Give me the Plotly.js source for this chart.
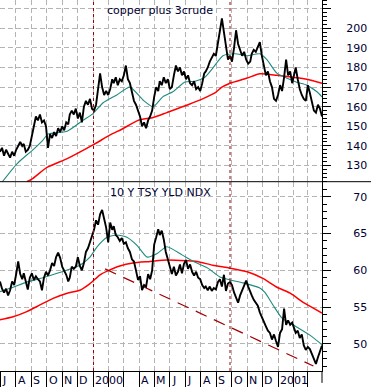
<!DOCTYPE html>
<html><head><meta charset="utf-8">
<script src="https://cdn.plot.ly/plotly-3.0.1.min.js"></script>
<style>html,body{margin:0;padding:0;background:#fff;}#chart{width:371px;height:387px;}</style>
</head><body><div id="chart"></div>
<script>
// shared dates for the daily/bar series (sampled)
const days = [
'1999-07-01','1999-07-05','1999-07-09','1999-07-13','1999-07-17','1999-07-21','1999-07-25','1999-07-29',
'1999-08-02','1999-08-06','1999-08-10','1999-08-14','1999-08-17','1999-08-21','1999-08-25','1999-08-29',
'1999-09-02','1999-09-06','1999-09-10','1999-09-14','1999-09-18','1999-09-22','1999-09-26','1999-09-30',
'1999-10-04','1999-10-08','1999-10-12','1999-10-16','1999-10-20','1999-10-24','1999-10-28',
'1999-11-01','1999-11-05','1999-11-09','1999-11-13','1999-11-16','1999-11-20','1999-11-24','1999-11-28',
'1999-12-02','1999-12-06','1999-12-10','1999-12-14','1999-12-18','1999-12-22','1999-12-26','1999-12-30',
'2000-01-03','2000-01-07','2000-01-11','2000-01-15','2000-01-19','2000-01-23','2000-01-27','2000-01-31',
'2000-02-04','2000-02-08','2000-02-11','2000-02-15','2000-02-19','2000-02-23','2000-02-27',
'2000-03-02','2000-03-06','2000-03-10','2000-03-14','2000-03-18','2000-03-22','2000-03-26','2000-03-30',
'2000-04-03','2000-04-07','2000-04-11','2000-04-15','2000-04-19','2000-04-23','2000-04-27',
'2000-05-01','2000-05-05','2000-05-09','2000-05-12','2000-05-16','2000-05-20','2000-05-24','2000-05-28',
'2000-06-01','2000-06-05','2000-06-09','2000-06-13','2000-06-17','2000-06-21','2000-06-25','2000-06-29',
'2000-07-03','2000-07-07','2000-07-11','2000-07-15','2000-07-19','2000-07-23','2000-07-27','2000-07-31',
'2000-08-04','2000-08-08','2000-08-11','2000-08-15','2000-08-19','2000-08-23','2000-08-27','2000-08-31',
'2000-09-04','2000-09-08','2000-09-12','2000-09-16','2000-09-20','2000-09-24','2000-09-28',
'2000-10-02','2000-10-06','2000-10-10','2000-10-14','2000-10-18','2000-10-22','2000-10-26','2000-10-30',
'2000-11-03','2000-11-07','2000-11-10','2000-11-14','2000-11-18','2000-11-22','2000-11-26','2000-11-30',
'2000-12-04','2000-12-08','2000-12-12','2000-12-16','2000-12-20','2000-12-24','2000-12-28',
'2001-01-01','2001-01-05','2001-01-09','2001-01-13','2001-01-17','2001-01-21','2001-01-25','2001-01-29',
'2001-02-02','2001-02-05','2001-02-09','2001-02-13','2001-02-17','2001-02-21','2001-02-25',
'2001-03-01','2001-03-05','2001-03-09','2001-03-13','2001-03-17','2001-03-21','2001-03-25','2001-03-29'
];

const copperCrude = [
137,139,135,138,136,134,137,135,
138,140,142,140,141,137,138,140,
146,150,155,153,156,152,153,150,
139,146,144,147,145,149,147,
150,148,152,151,156,158,156,159,
154,157,152,160,163,161,164,159,
158,161,170,177,170,166,168,166,
169,174,172,175,171,174,173,
176,181,174,172,168,163,161,158,
155,150,152,149,153,155,158,
165,170,168,173,171,175,172,174,
169,170,176,181,178,180,176,178,
174,176,172,171,173,169,170,168,
172,177,178,180,183,185,187,186,
192,197,205,198,190,184,186,
183,190,199,192,189,186,188,184,
182,183,187,189,188,191,193,186,
180,176,178,173,170,164,163,
166,171,168,175,184,176,178,172,
176,180,174,169,166,164,163,
171,167,162,158,157,161,159,155
];

const tsyYield = [
58.5,57.5,57.0,57.5,56.6,57.3,58.5,58.0,
59.5,61.2,59.5,58.8,59.6,58.5,57.4,59.0,
59.6,58.7,59.2,58.8,58.5,57.3,59.0,59.8,
59.3,60.0,61.0,60.6,61.8,62.4,61.7,
60.5,60.0,59.4,58.5,59.0,60.5,60.2,60.5,
61.8,60.6,60.0,61.0,62.5,63.0,63.8,64.5,
65.5,66.8,66.2,67.6,68.2,67.0,65.8,63.8,
66.5,65.5,66.0,64.8,64.5,64.0,64.4,
63.6,63.8,63.0,62.5,61.5,61.2,60.0,58.7,
59.2,57.3,58.0,57.8,59.5,58.8,60.0,
63.5,64.5,65.6,64.8,65.4,64.2,62.5,61.5,
60.6,59.5,60.5,59.3,59.8,60.8,59.6,60.9,
61.4,60.2,60.8,59.8,59.3,59.8,59.0,58.8,
58.0,57.6,57.8,57.3,57.8,57.2,57.6,57.4,
58.4,58.8,57.8,59.4,57.2,58.2,58.4,
58.0,57.0,56.3,55.6,56.6,57.3,58.0,58.6,
57.8,57.0,56.6,56.0,55.6,55.2,54.3,53.6,
53.0,52.4,51.8,51.5,50.6,51.3,50.4,
49.6,51.5,52.0,54.8,52.6,53.2,52.6,52.9,
52.2,51.5,51.8,50.8,51.3,49.8,49.2,
49.6,49.3,48.6,48.0,47.3,48.2,49.0,49.8
];

// moving averages
const ccShortDates = ['1999-07-05','1999-08-04','1999-09-04','1999-09-24','1999-10-04','1999-11-11','1999-12-12','2000-01-01','2000-01-21','2000-02-17','2000-03-14','2000-04-09','2000-04-29','2000-05-18','2000-06-07','2000-07-01','2000-07-21','2000-08-09','2000-08-25','2000-09-14','2000-10-08','2000-11-01','2000-11-26','2000-12-10','2000-12-30','2001-01-19','2001-02-07','2001-02-27','2001-03-19','2001-03-29'];
const ccShortMA = [121.5,131,138,143,146,147.5,153,156.5,162,166,170,163.4,160,165,167.6,172.6,173,175,179.7,186,187,186,187,184,177,174.5,172.5,171,167.6,165];
const ccLongDates = ['1999-08-23','1999-09-02','1999-10-02','1999-11-11','2000-01-01','2000-02-04','2000-02-27','2000-03-30','2000-04-29','2000-05-26','2000-07-07','2000-08-09','2000-08-29','2000-09-12','2000-09-28','2000-11-01','2000-11-26','2000-12-30','2001-01-31','2001-02-27','2001-03-29'];
const ccLongMA = [121.7,123,129,133.5,140.5,145.6,148.5,153,154.5,157,161,164.5,167,170,172,174.6,176.8,176,175,174,172];

const tyShortDates = ['1999-07-01','1999-07-27','1999-08-23','1999-09-24','1999-10-22','1999-11-11','1999-12-06','1999-12-26','2000-01-09','2000-01-29','2000-02-17','2000-03-08','2000-03-28','2000-04-17','2000-05-07','2000-05-26','2000-06-25','2000-07-21','2000-08-15','2000-09-08','2000-09-28','2000-10-24','2000-11-26','2000-12-06','2000-12-22','2001-01-09','2001-01-31','2001-03-05','2001-03-29'];
const tyShortMA = [57.1,57.7,58.4,59.0,59.6,60.05,60.7,61.8,63.2,64.5,64.8,64.5,63.4,61.8,62.3,63.2,62.1,61.1,60.3,59.1,58.7,58.3,57.6,57.0,55.3,53.5,52.6,51.2,49.9];
const tyLongDates = ['1999-07-01','1999-07-27','1999-08-23','1999-09-18','1999-10-14','1999-11-11','1999-12-06','1999-12-26','2000-01-15','2000-01-29','2000-02-23','2000-03-20','2000-04-23','2000-05-26','2000-07-05','2000-07-25','2000-08-25','2000-09-28','2000-11-01','2000-12-02','2000-12-30','2001-01-25','2001-02-19','2001-03-11','2001-03-29'];
const tyLongMA = [53.3,53.7,54.4,55.3,56.2,56.9,57.3,58.2,59.4,59.9,60.6,61.0,61.2,61.4,61.3,61.2,60.7,60.3,59.8,58.9,57.7,56.9,55.7,54.9,54.2];

// falling trend line on the yield panel
const trendDates = ['2000-01-25','2001-03-12'];
const trendVals = [60.2, 47.0];

// event markers (vertical dashed lines)
const eventDates = ['2000-01-02','2000-09-28'];

// x-axis month ticks and labels
const monthTicks = ['1999-07-01','1999-08-01','1999-09-01','1999-10-01','1999-11-01','1999-12-01','2000-01-01','2000-02-01','2000-03-01','2000-04-01','2000-05-01','2000-06-01','2000-07-01','2000-08-01','2000-09-01','2000-10-01','2000-11-01','2000-12-01','2001-01-01','2001-02-01','2001-03-01'];
const monthLabels = ['J','A','S','O','N','D','2000','','','A','M','J','J','A','S','O','N','D','2001','',''];

const topTicks = [130,140,150,160,170,180,190,200,210];
const topTickText = ['130','140','150','160','170','180','190','200',''];
const botTicks = [50,55,60,65,70];

const topTitle = 'copper plus 3crude';
const botTitle = '10 Y TSY YLD NDX';

const FONT = 'DejaVu Sans, Verdana, sans-serif';
const TXT = '#000033';
const BLACK = '#000000', TEAL = '#1f8a80', RED = '#ff0000';

const traces = [
  {x: ccLongDates, y: ccLongMA, xaxis:'x', yaxis:'y2', mode:'lines', line:{color:RED, width:1.5, shape:'spline', smoothing:0.6}, hoverinfo:'skip'},
  {x: ccShortDates, y: ccShortMA, xaxis:'x', yaxis:'y2', mode:'lines', line:{color:TEAL, width:1.1, shape:'spline', smoothing:0.6}, hoverinfo:'skip'},
  {x: days, y: copperCrude, xaxis:'x', yaxis:'y2', mode:'lines', line:{color:BLACK, width:1.9}, hoverinfo:'skip'},
  {x: tyLongDates, y: tyLongMA, xaxis:'x', yaxis:'y', mode:'lines', line:{color:RED, width:1.5, shape:'spline', smoothing:0.6}, hoverinfo:'skip'},
  {x: tyShortDates, y: tyShortMA, xaxis:'x', yaxis:'y', mode:'lines', line:{color:TEAL, width:1.1, shape:'spline', smoothing:0.6}, hoverinfo:'skip'},
  {x: trendDates, y: trendVals, xaxis:'x', yaxis:'y', mode:'lines', line:{color:'#a00000', width:1.2, dash:'12px,8px'}, hoverinfo:'skip'},
  {x: days, y: tsyYield, xaxis:'x', yaxis:'y', mode:'lines', line:{color:BLACK, width:1.9}, hoverinfo:'skip'}
];

const SPLIT = (371-181.7)/371;

const shapes = eventDates.map(d => ({type:'line', xref:'x', yref:'paper', x0:d, x1:d, y0:0, y1:1, layer:'above', line:{color:'#990000', width:1, dash:'3px,3px'}}));
shapes.push({type:'line', xref:'paper', yref:'paper', x0:0, x1:1.16, y0:SPLIT, y1:SPLIT, line:{color:'#000', width:1}});
shapes.push({type:'line', xref:'paper', yref:'paper', x0:1, x1:1, y0:-0.032, y1:0, line:{color:'#000', width:1}});

const annotations = monthTicks.map((d,i) => ({x:d, xref:'x', y:-0.0245, yref:'paper', text:monthLabels[i], showarrow:false, xanchor:'left', yanchor:'middle', font:{family:FONT, size:11, color:TXT}}))
  .filter(a => a.text !== '');
annotations.push({x:105.3/322, xref:'paper', y:1-11/371, yref:'paper', text:topTitle, showarrow:false, xanchor:'left', yanchor:'middle', font:{family:FONT, size:11, color:TXT}});
annotations.push({x:108/322, xref:'paper', y:1-192/371, yref:'paper', text:botTitle, showarrow:false, xanchor:'left', yanchor:'middle', font:{family:FONT, size:11, color:TXT}});

const gridStyle = {showgrid:true, gridcolor:'#b4b4b4', gridwidth:1, griddash:'5px,3px'};

const layout = {
  width:371, height:387,
  margin:{l:0, r:49, t:0, b:16, pad:0},
  paper_bgcolor:'#fff', plot_bgcolor:'#fff',
  showlegend:false,
  xaxis: Object.assign({type:'date', range:['1999-07-01','2001-03-29'], tickmode:'array', tickvals:monthTicks, showticklabels:false, ticks:'outside', ticklen:15, tickcolor:'#000', tickwidth:1, showline:true, linecolor:'#000', linewidth:1, zeroline:false, anchor:'y'}, gridStyle),
  yaxis: Object.assign({domain:[0, SPLIT], range:[46.33, 72.04], side:'right', anchor:'x', tickmode:'array', tickvals:botTicks, ticks:'outside', ticklen:8, tickcolor:'#000', showline:true, linecolor:'#000', linewidth:1, zeroline:false, ticklabelstandoff:20, tickfont:{family:FONT, size:11, color:TXT}, minor:{tick0:0, dtick:1, ticks:'outside', ticklen:4, tickcolor:'#000', showgrid:false}}, gridStyle),
  yaxis2: Object.assign({domain:[SPLIT, 1], range:[121.73, 214.44], side:'right', anchor:'x', tickmode:'array', tickvals:topTicks, ticktext:topTickText, ticks:'outside', ticklen:8, tickcolor:'#000', showline:true, linecolor:'#000', linewidth:1, zeroline:false, ticklabelstandoff:13, tickfont:{family:FONT, size:11, color:TXT}, minor:{tick0:0, dtick:2, ticks:'outside', ticklen:4, tickcolor:'#000', showgrid:false}}, gridStyle),
  shapes: shapes,
  annotations: annotations
};

Plotly.newPlot('chart', traces, layout, {staticPlot:true, displayModeBar:false});
</script></body></html>
